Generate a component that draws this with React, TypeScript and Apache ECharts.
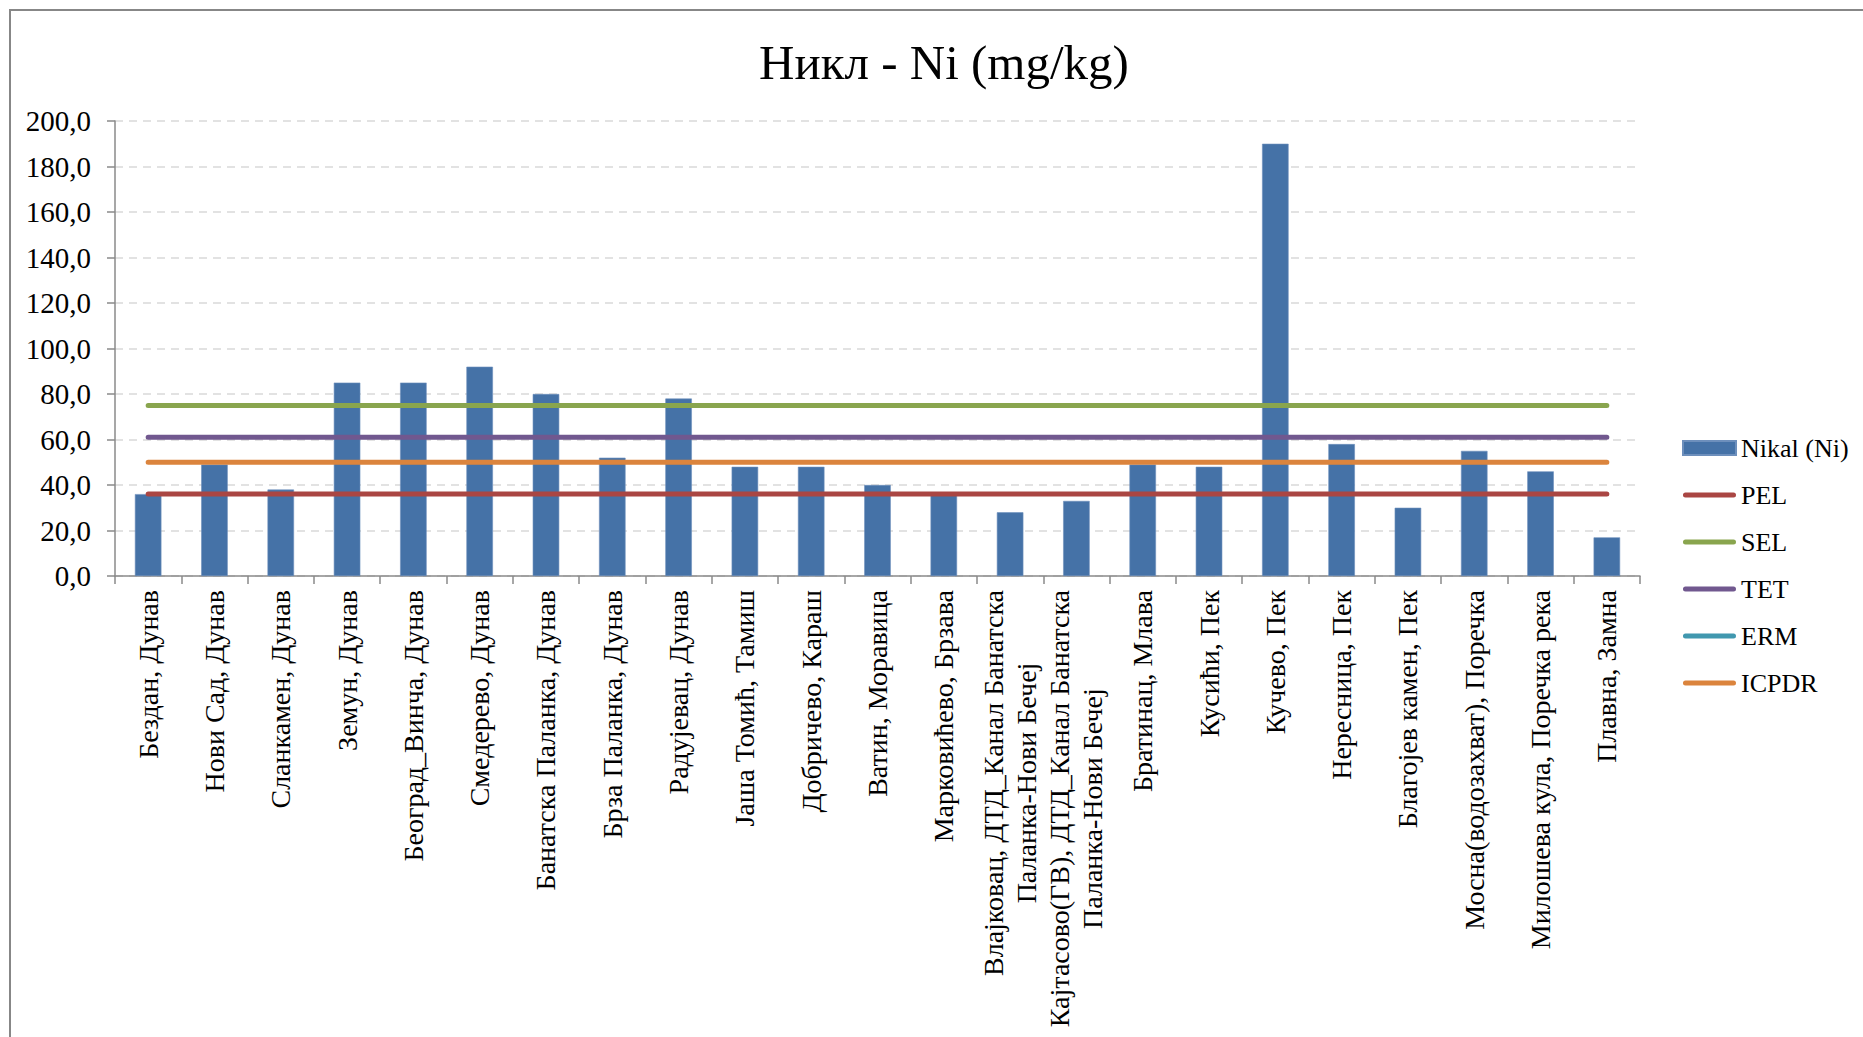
import React, { useEffect, useRef } from "react";
import * as echarts from "echarts";

const categories = [
  "Бездан, Дунав",
  "Нови Сад, Дунав",
  "Сланкамен, Дунав",
  "Земун, Дунав",
  "Београд_Винча, Дунав",
  "Смедерево, Дунав",
  "Банатска Паланка, Дунав",
  "Брза Паланка, Дунав",
  "Радујевац, Дунав",
  "Јаша Томић, Тамиш",
  "Добричево, Караш",
  "Ватин, Моравица",
  "Марковићево, Брзава",
  "Влајковац, ДТД_Канал Банатска\nПаланка-Нови Бечеј",
  "Кајтасово(ГВ), ДТД_Канал Банатска\nПаланка-Нови Бечеј",
  "Братинац, Млава",
  "Кусићи, Пек",
  "Кучево, Пек",
  "Нересница, Пек",
  "Благојев камен, Пек",
  "Мосна(водозахват), Поречка",
  "Милошева кула, Поречка река",
  "Плавна, Замна",
];

const nikal = [36, 49, 38, 85, 85, 92, 80, 52, 78, 48, 48, 40, 36, 28, 33, 49, 48, 190, 58, 30, 55, 46, 17];
const pel = [36, 36, 36, 36, 36, 36, 36, 36, 36, 36, 36, 36, 36, 36, 36, 36, 36, 36, 36, 36, 36, 36, 36];
const sel = [75, 75, 75, 75, 75, 75, 75, 75, 75, 75, 75, 75, 75, 75, 75, 75, 75, 75, 75, 75, 75, 75, 75];
const tet = [61, 61, 61, 61, 61, 61, 61, 61, 61, 61, 61, 61, 61, 61, 61, 61, 61, 61, 61, 61, 61, 61, 61];
const erm: (number | null)[] = [null, null, null, null, null, null, null, null, null, null, null, null, null, null, null, null, null, null, null, null, null, null, null];
const icpdr = [50, 50, 50, 50, 50, 50, 50, 50, 50, 50, 50, 50, 50, 50, 50, 50, 50, 50, 50, 50, 50, 50, 50];

const FONT = "Liberation Serif";
const LINE_ICON = "path://M5,0 L101,0 A5,5 0 0 1 101,10 L5,10 A5,5 0 0 1 5,0 Z";

function lineSeries(name: string, data: (number | null)[], color: string, z: number) {
  return {
    name,
    type: "line",
    data,
    symbol: "none",
    showSymbol: false,
    z,
    lineStyle: { color, width: 5, cap: "round" },
    itemStyle: { color },
  };
}

export default function App() {
  const ref = useRef<HTMLDivElement>(null);
  useEffect(() => {
    if (!ref.current) return;
    const chart = echarts.init(ref.current, null, { renderer: "svg" });
    chart.setOption({
      animation: false,
      backgroundColor: "#ffffff",
      graphic: [
        {
          type: "rect",
          shape: { x: 10, y: 10, width: 1900, height: 1100 },
          style: { fill: "none", stroke: "#878787", lineWidth: 2 },
          silent: true,
        },
        {
          type: "text",
          x: 944,
          y: 62,
          style: {
            text: "Никл - Ni (mg/kg)",
            font: `49px "${FONT}"`,
            fill: "#000000",
            textAlign: "center",
            textVerticalAlign: "middle",
          },
        },
      ],
      legend: {
        orient: "vertical",
        left: 1677,
        top: 430,
        itemWidth: 53,
        itemHeight: 14,
        itemGap: 21,
        symbolKeepAspect: true,
        textStyle: { fontFamily: FONT, fontSize: 26, color: "#000000" },
        data: [
          { name: "Nikal (Ni)", icon: "rect" },
          { name: "PEL", icon: LINE_ICON },
          { name: "SEL", icon: LINE_ICON },
          { name: "TET", icon: LINE_ICON },
          { name: "ERM", icon: LINE_ICON },
          { name: "ICPDR", icon: LINE_ICON },
        ],
      },
      grid: { left: 115, right: 223, top: 121, bottom: 461, containLabel: false },
      xAxis: {
        type: "category",
        data: categories,
        axisLine: { lineStyle: { color: "#8a8a8a", width: 1.5 } },
        axisTick: { show: true, length: 8, lineStyle: { color: "#8a8a8a", width: 1.5 } },
        axisLabel: {
          interval: 0,
          rotate: 90,
          margin: 14,
          color: "#000000",
          fontFamily: FONT,
          fontSize: 28,
          formatter: (v: string) => v.split("\n").map((s) => `{c|${s}}`).join("\n"),
          rich: { c: { align: "center", fontFamily: FONT, fontSize: 28, color: "#000000", lineHeight: 33 } },
        },
      },
      yAxis: {
        type: "value",
        min: 0,
        max: 200,
        interval: 20,
        axisLine: { show: true, lineStyle: { color: "#8a8a8a", width: 1.5 } },
        axisTick: { show: true, length: 8, lineStyle: { color: "#8a8a8a", width: 1.5 } },
        splitLine: { lineStyle: { color: "#d9d9d9", width: 1.5, type: [8, 6] } },
        axisLabel: {
          color: "#000000",
          fontFamily: FONT,
          fontSize: 29,
          margin: 24,
          formatter: (v: number) => v.toFixed(1).replace(".", ","),
        },
      },
      series: [
        {
          name: "Nikal (Ni)",
          type: "bar",
          data: nikal,
          barWidth: "40%",
          itemStyle: { color: "#4572A7", borderColor: "#6d8fbc", borderWidth: 0.6 },
          z: 2,
        },
        lineSeries("PEL", pel, "#AA4643", 3),
        lineSeries("SEL", sel, "#89A54E", 3),
        lineSeries("TET", tet, "#71588F", 3),
        lineSeries("ERM", erm, "#4198AF", 3),
        lineSeries("ICPDR", icpdr, "#DB843D", 3),
      ],
    });
    return () => chart.dispose();
  }, []);
  return (
    <div
      ref={ref}
      style={{ position: "fixed", left: 0, top: 0, width: 1863, height: 1037, background: "#fff" }}
    />
  );
}
